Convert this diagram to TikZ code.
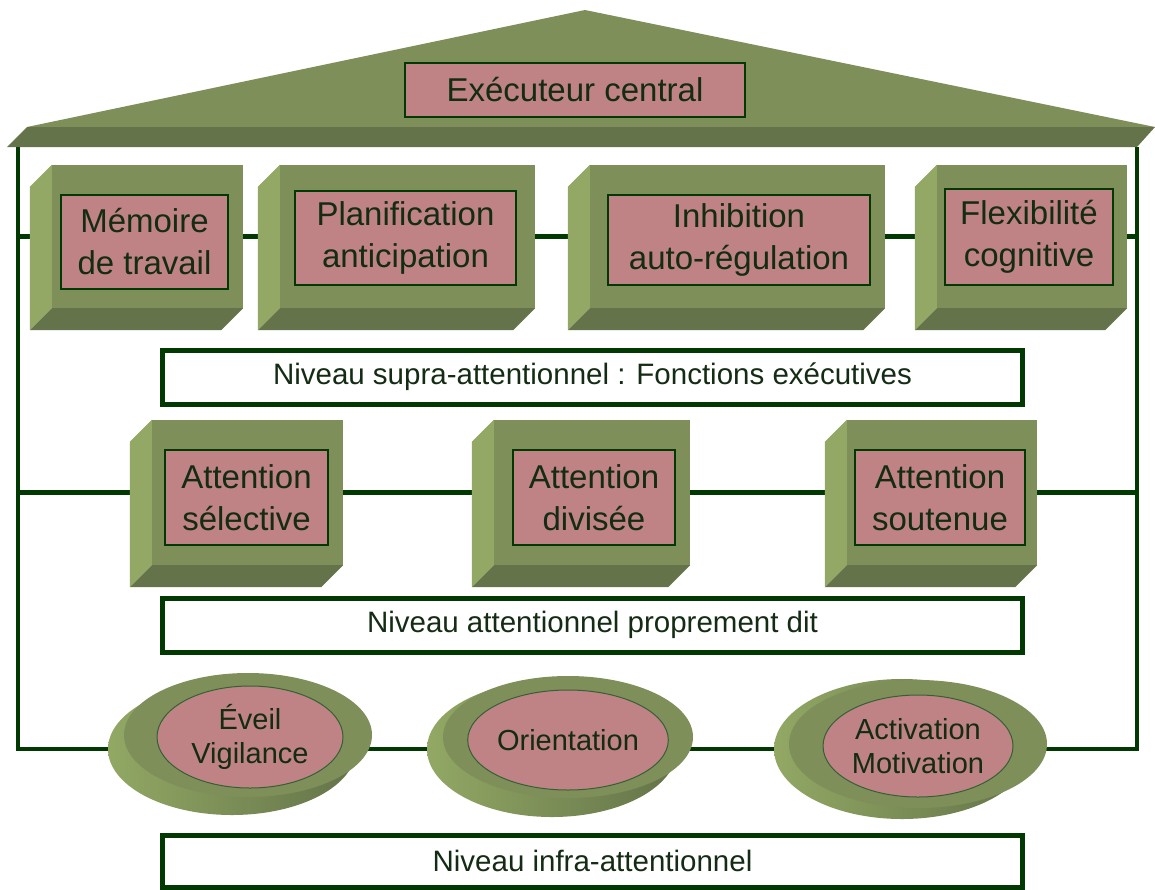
\documentclass[tikz,border=0pt]{standalone}
\usepackage{fontspec}
\setmainfont{Liberation Sans}
\usepackage{tikz}
\usetikzlibrary{calc,shapes.geometric,backgrounds}

\definecolor{vert}{HTML}{7F8F5A}
\definecolor{vertfonce}{HTML}{647349}
\definecolor{vertclair}{HTML}{92A864}
\definecolor{rose}{HTML}{BF8285}
\definecolor{sombre}{HTML}{023802}
\definecolor{texte}{HTML}{142B14}

% faces laterales d'un bloc en relief
\newcommand{\relief}[1]{%
	\fill[vertclair] (#1.north west) -- ++(-22,22) -- ($(#1.south west)+(-22,22)$) -- (#1.south west) -- cycle;
	\fill[vertfonce] (#1.south west) -- ++(-22,22) -- ($(#1.south east)+(-22,22)$) -- (#1.south east) -- cycle;
}

\begin{document}
\begin{tikzpicture}[x=1pt, y=-1pt,
	bloc/.style={fill=vert, inner sep=0, minimum height=143},
	cadre/.style={fill=rose, draw=sombre, line width=1.5, inner sep=0, align=center, text=texte, font=\fontsize{33}{42}\selectfont},
	niveau/.style={fill=white, draw=sombre, line width=5, inner sep=0, minimum width=860, text=texte, font=\fontsize{29.5}{35}\selectfont},
	socle/.style={ellipse, inner sep=0, left color=vertclair, right color=vertfonce},
	dessus/.style={ellipse, inner sep=0, fill=vert},
	bulle/.style={ellipse, fill=rose, draw=sombre!80, line width=1, inner sep=0, align=center, text=texte, font=\fontsize{29}{34}\selectfont},
	rail/.style={draw=sombre, line width=4.5, line join=miter},
	liaison/.style={draw=sombre, line width=5}]
	
	\useasboundingbox (0,0) rectangle (1155,889);
	
	% toit
	\fill[vert] (27,127) -- (585,10) -- (1155,127) -- cycle;
	\fill[vertfonce] (27,127) -- (1155,127) -- (1137,147) -- (7,147) -- cycle;
	\node[cadre, minimum width=340, minimum height=54] (exec) at (575,90) {Exécuteur central};
	
	\coordinate (toitG) at (18,147);
	\coordinate (toitD) at (1137,147);
	\coordinate (coinG) at (18,749);
	\coordinate (coinD) at (1137,749);
	\coordinate (railG1) at (18,236.5);
	\coordinate (railD1) at (1137,236.5);
	\coordinate (railG2) at (18,492.5);
	\coordinate (railD2) at (1137,492.5);
	
	% niveau supra-attentionnel
	\node[bloc, minimum width=191] (mem-f) at (147.5,236.5) {};
	\node[bloc, minimum width=255] (plan-f) at (407.5,236.5) {};
	\node[bloc, minimum width=295] (inhib-f) at (737.5,236.5) {};
	\node[bloc, minimum width=190] (flex-f) at (1032,236.5) {};
	\relief{mem-f}
	\relief{plan-f}
	\relief{inhib-f}
	\relief{flex-f}
	\node[cadre, minimum width=167, minimum height=94] (mem) at (144.5,242) {Mémoire\\de travail};
	\node[cadre, minimum width=221, minimum height=94] (plan) at (405.5,238) {Planification\\anticipation};
	\node[cadre, minimum width=262, minimum height=90] (inhib) at (739,240) {Inhibition\\auto-régulation};
	\node[cadre, minimum width=168, minimum height=96] (flex) at (1029,237) {Flexibilité\\cognitive};
	
	\node[niveau, minimum height=54] (supra) at (592.5,377) {Niveau supra-attentionnel : Fonctions exécutives};
	
	% niveau attentionnel
	\node[bloc, minimum width=191, minimum height=145] (sel-f) at (247.5,492.5) {};
	\node[bloc, minimum width=196, minimum height=145] (div-f) at (592,492.5) {};
	\node[bloc, minimum width=190, minimum height=145] (sout-f) at (942,492.5) {};
	\relief{sel-f}
	\relief{div-f}
	\relief{sout-f}
	\node[cadre, minimum width=163, minimum height=95] (sel) at (246.5,497.5) {Attention\\sélective};
	\node[cadre, minimum width=162, minimum height=95] (div) at (594,497.5) {Attention\\divisée};
	\node[cadre, minimum width=170, minimum height=95] (sout) at (940,497.5) {Attention\\soutenue};
	
	\node[niveau, minimum height=54] (attn) at (592.5,625) {Niveau attentionnel proprement dit};
	
	% niveau infra-attentionnel
	\node[socle, minimum width=248, minimum height=132] (eveil) at (232,749) {};
	\node[dessus, minimum width=248, minimum height=124] (eveil-h) at (248,735) {};
	\node[bulle, minimum width=186, minimum height=102] (eveil-t) at (250,737) {Éveil\\Vigilance};
	
	\node[socle, minimum width=250, minimum height=136] (orient) at (552,749) {};
	\node[dessus, minimum width=250, minimum height=122] (orient-h) at (568,737) {};
	\node[bulle, minimum width=184, minimum height=100] (orient-t) at (568,740) {Orientation};
	
	\node[socle, minimum width=256, minimum height=140] (activ) at (902,749) {};
	\node[dessus, minimum width=258, minimum height=128] (activ-h) at (918,744) {};
	\node[bulle, minimum width=190, minimum height=102] (activ-t) at (918,746) {Activation\\Motivation};
	
	\node[niveau, minimum height=52] (infra) at (592.5,861) {Niveau infra-attentionnel};
	
	% liaisons
	\begin{scope}[on background layer]
		\draw[rail] (toitG) -- (coinG) -- (eveil) -- (orient) -- (activ) -- (coinD) -- (toitD);
		\draw[liaison] (railG1) -- (mem-f) -- (plan-f) -- (inhib-f) -- (flex-f) -- (railD1);
		\draw[liaison] (railG2) -- (sel-f) -- (div-f) -- (sout-f) -- (railD2);
	\end{scope}
	
\end{tikzpicture}
\end{document}
